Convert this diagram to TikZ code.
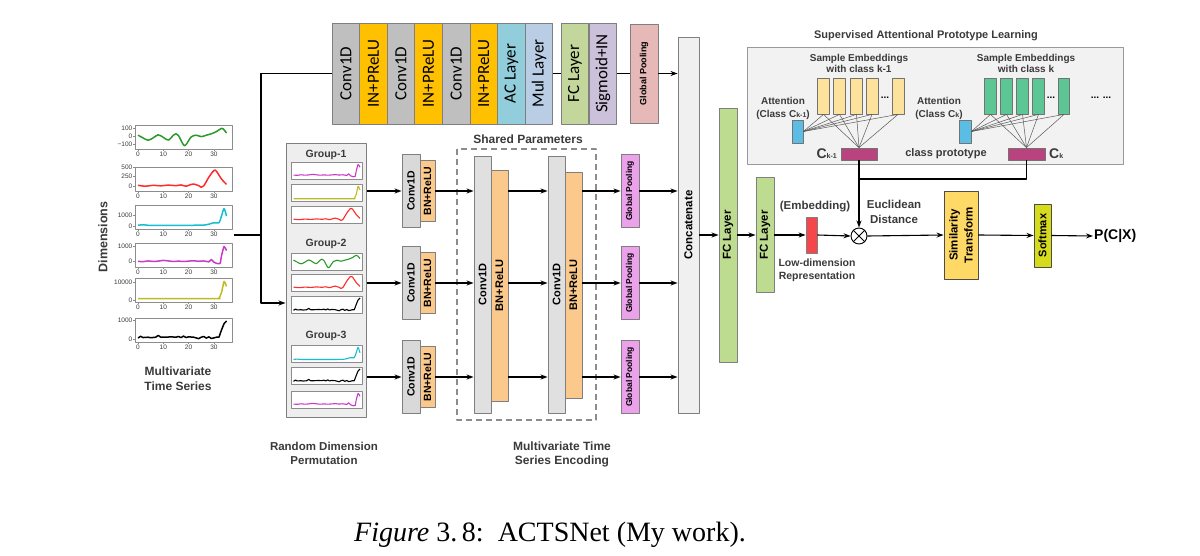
\documentclass[tikz,border=0pt]{standalone}
\usepackage{fontspec}
\setmainfont{Liberation Serif}
\newfontfamily\arial{Liberation Sans}
\newfontfamily\calib{Carlito}
\usetikzlibrary{arrows.meta}

\definecolor{bgray}{HTML}{7F7F7F}
\definecolor{fgray}{HTML}{8C8C8C}
\definecolor{txtgray}{HTML}{3A3A3A}
\definecolor{cconv}{HTML}{BFBFBF}
\definecolor{cin}{HTML}{FFC000}
\definecolor{cac}{HTML}{92CDDC}
\definecolor{cmul}{HTML}{B9CDE5}
\definecolor{cfc}{HTML}{C3D69B}
\definecolor{csig}{HTML}{CCC1DA}
\definecolor{cgpt}{HTML}{E6B9B8}
\definecolor{ccat}{HTML}{F0F0F0}
\definecolor{cfcg}{HTML}{BDDC8F}
\definecolor{cgp}{HTML}{EBA2EB}
\definecolor{csc}{HTML}{D9D9D9}
\definecolor{cbig}{HTML}{E0E0E0}
\definecolor{cbn}{HTML}{FAC98B}
\definecolor{cgrp}{HTML}{EEEEEE}
\definecolor{cbox}{HTML}{F2F2F2}
\definecolor{cyel}{HTML}{FCE29A}
\definecolor{cgrn}{HTML}{5CC795}
\definecolor{cblu}{HTML}{5BBDE4}
\definecolor{cpro}{HTML}{B8437E}
\definecolor{cemb}{HTML}{F5474B}
\definecolor{csim}{HTML}{FFD966}
\definecolor{csoft}{HTML}{D6DB1E}
\definecolor{tsgreen}{HTML}{2A9A2A}
\definecolor{tsred}{HTML}{FF2A2A}
\definecolor{tscyan}{HTML}{17BECF}
\definecolor{tsmag}{HTML}{C93AC9}
\definecolor{tsyel}{HTML}{BCBD22}

\newcommand{\bsf}[2]{\arial\bfseries\fontsize{#1}{#2}\selectfont}
\newcommand{\smallsub}[1]{{\fontsize{7}{7}\selectfont #1}}

% time series curves, t in 0..35, value in 0..1
\newcommand{\crvgreen}{\draw[tsgreen] plot[smooth,tension=.55] coordinates {(0,.6) (2,.45) (4,.32) (6,.45) (8,.62) (10,.48) (12,.33) (14,.6) (15,.68) (16,.58) (18,.06) (19,.08) (21,.5) (23,.6) (25,.52) (27,.6) (29,.68) (31,.8) (33,.98) (34,.9) (35,.72)};}
\newcommand{\crvred}{\draw[tsred] plot[smooth,tension=.55] coordinates {(0,.15) (3,.1) (6,.15) (9,.12) (12,.16) (15,.13) (17,.17) (19,.1) (21,.2) (22,.22) (24,.13) (25,.04) (26,.12) (28,.6) (30,.97) (31,.93) (33,.5) (35,.2)};}
\newcommand{\crvcyan}{\draw[tscyan] plot[smooth,tension=.4] coordinates {(0,.04) (2,.07) (4,.04) (10,.04) (20,.04) (26,.05) (28,.1) (30,.18) (32,.18) (33,.55) (34,.97) (35,.55)};}
\newcommand{\crvmag}{\draw[tsmag] plot[smooth,tension=.3] coordinates {(0,.15) (2,.13) (4,.17) (6,.14) (8,.16) (10,.2) (12,.17) (14,.14) (16,.16) (18,.14) (20,.16) (22,.18) (24,.15) (26,.17) (28,.12) (29,.25) (30,.1) (31.5,.02) (32.5,.05) (33,.45) (34,.97) (35,.75)};}
\newcommand{\crvyel}{\draw[tsyel] plot[smooth,tension=.3] coordinates {(0,.02) (31,.02) (32,.05) (33,.35) (34,.97) (35,.7)};}
\newcommand{\crvblack}{\draw[black] plot coordinates {(0,.05) (1,.15) (2,.08) (4,.1) (5,.07) (7,.1) (8,.2) (9,.1) (11,.1) (13,.12) (15,.1) (16,.14) (17,.08) (18,.16) (19,.08) (20,.12) (22,.1) (24,.02) (25,.1) (26,.14) (27,.05) (28,.12) (29,.03) (30,.06) (31,.1) (32,.1) (33,.5) (34,.85) (35,1)};}

% big plot on the left: top y, curve
\newcommand{\tsplot}[2]{%
  \draw[fgray, fill=white, line width=.8pt] (135,#1) rectangle (232,#1+24);
  \foreach \t in {0,10,20,30}
    \draw[fgray, line width=.5pt] (138+2.53*\t,#1+24) -- ++(0,2) node[ticklbl, below, inner sep=.5pt] (xt\t) {\t};
  \begin{scope}[shift={(138,#1+21)}, xscale=2.53, yscale=-18, line width=1.5pt]
    #2
  \end{scope}}
% small plot inside a group: top y, curve
\newcommand{\grplot}[2]{%
  \draw[fgray, fill=white, line width=.8pt] (291,#1) rectangle (362,#1+17);
  \begin{scope}[shift={(293.5,#1+15)}, xscale=1.9, yscale=-13, line width=1.1pt]
    #2
  \end{scope}}

\tikzset{
  lay/.style={draw=bgray, line width=.9pt, rotate=90, inner sep=0pt, align=center},
  wh/.style 2 args={minimum height=#1pt, minimum width=#2pt},
  bx/.style 2 args={minimum width=#1pt, minimum height=#2pt, inner sep=0pt},
  lbl/.style={font=\bsf{11.5}{14}, text=txtgray, align=center, inner sep=1pt},
  ticklbl/.style={font=\arial\fontsize{6.5}{7}\selectfont, text=txtgray},
  cn/.style={->, line width=1.1pt},
  ln/.style={line width=1.1pt},
  wire/.style={draw=black!65, line width=.5pt},
  bar/.style={draw=black!55, line width=.8pt, minimum width=12pt, minimum height=36pt, inner sep=0pt},
}

\begin{document}
\begin{tikzpicture}[x=1pt, y=-1pt, line join=round, >={Stealth[length=7pt,width=5pt]}]
\useasboundingbox (0,0) rectangle (1200,556);

% input series
\tsplot{125}{\crvgreen}
\tsplot{167}{\crvred}
\tsplot{205}{\crvcyan}
\tsplot{243}{\crvmag}
\tsplot{278}{\crvyel}
\tsplot{318}{\crvblack}
\foreach \yy/\lab [count=\k] in {128.3/100, 136.7/0, 144.3/−100, 167/500, 176.5/250, 186/0, 215.7/1000, 226.7/0, 246.7/1000, 261.7/0, 282.3/10000, 300/0, 320/1000, 339/0}
  \draw[fgray, line width=.5pt] (135,\yy) -- ++(-2,0) node[ticklbl, left, inner sep=.5pt] (yt\k) {\lab};
\node[lbl, font=\bsf{12.5}{15}, rotate=90] (dimlab) at (103,237) {Dimensions};
\node[lbl, font=\bsf{12}{15}] (mtslab) at (178,379) {Multivariate\\Time Series};

% top branch
\foreach \i/\xc/\lab/\col in {1/345.8/Conv1D/cconv, 2/373.4/IN+PReLU/cin, 3/401/Conv1D/cconv, 4/428.6/IN+PReLU/cin, 5/456.2/Conv1D/cconv, 6/483.8/IN+PReLU/cin, 7/511.4/AC Layer/cac, 8/539/Mul Layer/cmul, 9/575/FC Layer/cfc, 10/603/Sigmoid+IN/csig}
  \node[lay, wh={27.6}{101}, fill=\col, font=\calib\fontsize{17}{17}\selectfont] (t\i) at (\xc,73.5) {\lab};
\node[lay, wh={28}{99}, fill=cgpt, font=\bsf{9}{9}] (tgp) at (644,73.5) {Global Pooling};
\node[lay, wh={21}{376}, fill=ccat, font=\bsf{11.5}{12}] (cat) at (688.5,225) {Concatenate};

% random dimension permutation
\node[draw=bgray, fill=cgrp, line width=1pt, bx={80}{273}] (grp) at (326,280.5) {};
\foreach \g/\yy in {1/155, 2/244, 3/336}
  \node[lbl, font=\bsf{10.5}{12}] (gl\g) at (326,\yy) {Group-\g};
\grplot{162}{\crvmag}
\grplot{184}{\crvyel}
\grplot{206}{\crvred}
\grplot{253}{\crvgreen}
\grplot{274}{\crvred}
\grplot{296}{\crvblack}
\grplot{345}{\crvcyan}
\grplot{367}{\crvblack}
\grplot{391}{\crvmag}
\node[lbl] (rdplab) at (324,453) {Random Dimension\\Permutation};

\coordinate (tsout) at (234,235);
\coordinate (gin) at (261,303);
\draw[ln] (tsout) -- (tsout -| gin);
\draw[ln] (gin |- t1.north) -- (t1.north);
\draw[cn] (gin |- t1.north) -- (gin) -- (gin -| grp.west);
\draw[ln] (t8.south) -- (t9.north);
\draw[ln] (t10.south) -- (tgp.north);
\draw[cn] (tgp.south) -- (tgp.south -| cat.north);

% shared encoder
\node[lay, wh={17}{257}, fill=cbig, font=\bsf{11}{12}] (ca) at (482.5,284.5) {Conv1D};
\node[lay, wh={17}{231}, fill=cbn, font=\bsf{11}{12}] (ba) at (499.5,285.5) {BN+ReLU};
\node[lay, wh={17}{257}, fill=cbig, font=\bsf{11}{12}] (cb) at (556.5,284.5) {Conv1D};
\node[lay, wh={17}{226}, fill=cbn, font=\bsf{11}{12}] (bb) at (573.5,285) {BN+ReLU};
\draw[fgray, line width=1.1pt, dash pattern=on 6pt off 4pt] (457,149) rectangle (596,420);
\node[lbl, font=\bsf{12}{14}] (shlab) at (528,139) {Shared Parameters};
\node[lbl, font=\bsf{12}{14}] (enclab) at (562,454) {Multivariate Time\\Series Encoding};

\foreach \r/\yy in {1/191, 2/283, 3/377} {
  \node[lay, wh={18}{73}, fill=csc, font=\bsf{10.5}{11}] (sc\r) at (411,\yy) {Conv1D};
  \node[lay, wh={15}{61}, fill=cbn, font=\bsf{10.5}{11}] (bn\r) at (427.5,\yy) {BN+ReLU};
  \node[lay, wh={18}{73}, fill=cgp, font=\bsf{8.5}{9}] (gp\r) at (630,\yy) {Global Pooling};
  \draw[cn] (grp.east |- sc\r.north) -- (sc\r.north);
  \draw[cn] (bn\r.south) -- (bn\r.south -| ca.north);
  \draw[cn] (ba.south |- bn\r.south) -- (cb.north |- bn\r.south);
  \draw[cn] (bb.south |- gp\r.north) -- (gp\r.north);
  \draw[cn] (gp\r.south) -- (gp\r.south -| cat.north);
}

% classifier
\node[lay, wh={18}{254}, fill=cfcg, font=\bsf{11.5}{12}] (fcbig) at (728,235) {FC Layer};
\node[lay, wh={18}{115}, fill=cfcg, font=\bsf{11.5}{12}] (fcsmall) at (765,235) {FC Layer};
\node[draw=bgray, fill=cemb, line width=.8pt, bx={11}{36}] (emb) at (811.5,235) {};
\node[circle, draw=black, fill=white, line width=.9pt, minimum size=16pt, inner sep=0pt] (ot) at (859,236) {};
\draw[line width=.8pt] (ot.north west) -- (ot.south east) (ot.north east) -- (ot.south west);
\node[lay, wh={34}{88}, fill=csim, draw=black!70, font=\bsf{11.5}{15}] (sim) at (961,235) {Similarity\\Transform};
\node[lay, wh={17}{63}, fill=csoft, draw=black!70, font=\bsf{11}{12}] (soft) at (1042.5,235.5) {Softmax};
\node[anchor=west, font=\bsf{14}{14}, inner sep=1pt] (pcx) at (1093,236) {P(C|X)};
\node[lbl] (emblab) at (815,207) {(Embedding)};
\node[lbl, font=\bsf{10.5}{13}] (lowlab) at (817,270) {Low-dimension\\Representation};
\node[lbl, font=\bsf{11.5}{15}] (euclab) at (894,212) {Euclidean\\Distance};

\draw[cn] (cat.south |- fcbig.north) -- (fcbig.north);
\draw[cn] (fcbig.south) -- (fcsmall.north);
\draw[cn] (fcsmall.south) -- (emb.west);
\draw[cn] (emb.east) -- (ot.west);
\draw[cn] (ot.east) -- (sim.north);
\draw[cn] (sim.south) -- (soft.north);
\draw[cn] (soft.south) -- (pcx.west);

% supervised attentional prototype learning
\node[draw=black!40, fill=cbox, line width=.9pt, bx={376}{117}] (sapbox) at (935,105.5) {};
\node[lbl, font=\bsf{11}{13}] (saptit) at (926,36) {Supervised Attentional Prototype Learning};
\foreach \n/\xc in {1/823.5, 2/839.5, 3/856.5, 4/872, 5/898}
  \node[bar, fill=cyel] (ya\n) at (\xc,96) {};
\foreach \n/\xc in {1/990.5, 2/1006.5, 3/1022.5, 4/1038.5, 5/1064}
  \node[bar, fill=cgrn, minimum width=11.5pt] (gb\n) at (\xc,96) {};
\node[font=\bsf{10}{10}, inner sep=0pt] (dota) at (885,98) {...};
\node[font=\bsf{10}{10}, inner sep=0pt] (dotb) at (1051,98) {...};
\node[font=\bsf{10}{10}, inner sep=0pt] (dotc) at (1101,98) {... ...};
\node[draw=black!55, fill=cblu, line width=.8pt, bx={11}{23}] (atta) at (797.5,131.5) {};
\node[draw=black!55, fill=cblu, line width=.8pt, bx={12}{23}] (attb) at (965,131.5) {};
\node[draw=black!55, fill=cpro, line width=.8pt, bx={36}{12}] (pa) at (859,154) {};
\node[draw=black!55, fill=cpro, line width=.8pt, bx={37}{12}] (pb) at (1026.5,154) {};
\foreach \n in {1,...,5} {
  \draw[wire] (atta.east) -- (ya\n.south) -- (pa.north);
  \draw[wire] (attb.east) -- (gb\n.south) -- (pb.north);
}
\node[lbl, font=\bsf{10}{11.5}] (sela) at (859,63.5) {Sample Embeddings\\with class k-1};
\node[lbl, font=\bsf{10}{11.5}] (selb) at (1026,63.5) {Sample Embeddings\\with class k};
\node[lbl, font=\bsf{10}{13}] (attla) at (783,108) {Attention\\(Class C\smallsub{k-1})};
\node[lbl, font=\bsf{10}{13}] (attlb) at (939,108) {Attention\\(Class C\smallsub{k})};
\node[lbl, anchor=east, font=\bsf{14}{14}] (cka) at (838,154) {C\smallsub{k-1}};
\node[lbl, anchor=west, font=\bsf{14}{14}] (ckb) at (1048,154) {C\smallsub{k}};
\node[lbl, font=\bsf{11}{13}] (cpl) at (946,154) {class prototype};

\coordinate (joint) at (859,179);
\draw[cn] (pa.south) -- (ot.north);
\draw[ln] (pb.south) |- (joint);

% caption
\node[font=\fontsize{28}{30}\selectfont] (cap) at (550,535) {\textit{Figure} 3.\,8:\ \ ACTSNet (My work).};
\end{tikzpicture}
\end{document}
